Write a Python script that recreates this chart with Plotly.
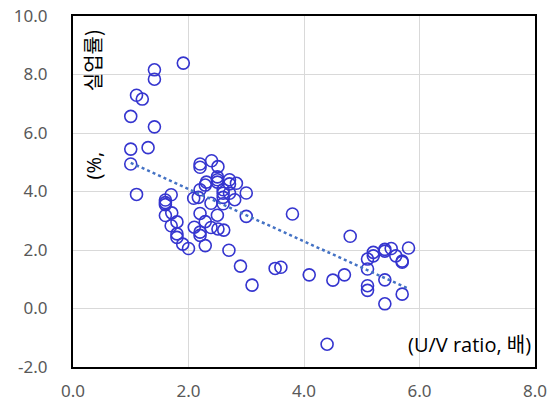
import numpy as np
import plotly.graph_objects as go

# U/V ratio (x) and unemployment rate in % (y)
uv_ratio = [
    1.91, 1.41, 1.41, 1.10, 1.20, 1.00, 1.41, 1.00, 1.30, 1.00, 1.10,
    1.70, 1.60, 1.60, 1.60, 1.71, 1.60, 1.80, 1.70, 1.80, 1.80, 1.90, 2.00,
    2.20, 2.20, 2.40, 2.51, 2.50, 2.50, 2.50, 2.31, 2.29, 2.71, 2.71, 2.83,
    3.00, 2.20, 2.17, 2.09, 2.60, 2.60, 2.71, 2.80, 2.60, 2.39, 2.60, 2.20,
    2.50, 3.00, 2.29, 2.10, 2.39, 2.51, 2.61, 2.20, 2.20, 2.29, 2.70, 2.90,
    3.10,
    3.50, 3.60, 3.80, 4.09, 4.50, 4.70, 4.40, 4.80, 5.10, 5.20, 5.20, 5.10,
    5.10, 5.10, 5.40, 5.40, 5.51, 5.59, 5.70, 5.70, 5.81, 5.40, 5.70, 5.40,
]
unemployment = [
    8.39, 8.16, 7.84, 7.29, 7.16, 6.57, 6.21, 5.45, 5.50, 4.94, 3.90,
    3.89, 3.71, 3.62, 3.55, 3.27, 3.18, 2.96, 2.83, 2.55, 2.43, 2.20, 2.05,
    4.94, 4.83, 5.05, 4.85, 4.50, 4.40, 4.32, 4.32, 4.22, 4.40, 4.26, 4.28,
    3.95, 4.06, 3.80, 3.77, 4.06, 3.94, 3.94, 3.72, 3.80, 3.60, 3.58, 3.25,
    3.19, 3.15, 2.97, 2.78, 2.77, 2.72, 2.68, 2.61, 2.50, 2.15, 1.99, 1.45,
    0.80,
    1.37, 1.41, 3.23, 1.15, 0.97, 1.15, -1.22, 2.47, 1.69, 1.80, 1.92, 1.35,
    0.78, 0.62, 2.02, 1.96, 2.05, 1.80, 1.62, 1.58, 2.07, 0.98, 0.49, 0.16,
]

x_ticks = [0, 2, 4, 6, 8]
y_ticks = [-2, 0, 2, 4, 6, 8, 10]

# Linear least-squares trend over the observed range
slope, intercept = np.polyfit(uv_ratio, unemployment, 1)
trend_x = np.array([min(uv_ratio), max(uv_ratio)])
trend_y = slope * trend_x + intercept

fig = go.Figure()
fig.add_trace(go.Scatter(
    x=uv_ratio, y=unemployment, mode="markers",
    marker=dict(symbol="circle-open", size=12, color="#3535CF",
                line=dict(width=1.6, color="#3535CF")),
    showlegend=False, hoverinfo="skip",
))
fig.add_trace(go.Scatter(
    x=trend_x, y=trend_y, mode="lines",
    line=dict(color="#4472C4", width=2.5, dash="dot"),
    showlegend=False, hoverinfo="skip",
))

tick_font = dict(family="Noto Sans, DejaVu Sans, sans-serif", size=17, color="#595959")
axis_common = dict(
    showgrid=True, gridcolor="#D9D9D9", gridwidth=1,
    zeroline=False, showline=True, linecolor="black", linewidth=2,
    mirror=True, ticks="", tickfont=tick_font, automargin=False,
)

fig.update_layout(
    width=551, height=404,
    margin=dict(l=73, r=16, t=16, b=37),
    plot_bgcolor="white", paper_bgcolor="white",
    xaxis=dict(range=[0, 8], tickvals=x_ticks,
               ticktext=[f"{v:.1f}" for v in x_ticks],
               ticklabelstandoff=8, **axis_common),
    yaxis=dict(range=[-2, 10], tickvals=y_ticks,
               ticktext=[f"{v:.1f}" for v in y_ticks],
               ticklabelstandoff=20, **axis_common),
)

label_font = dict(family="Open Sans, Noto Sans CJK KR, sans-serif", size=20, color="black")
fig.add_annotation(
    text="(U/V ratio, 배)", xref="paper", yref="paper",
    x=0.995, y=0.065, xanchor="right", yanchor="middle",
    showarrow=False, font=label_font,
)
fig.add_annotation(
    text="(%,", xref="paper", yref="paper", textangle=-90,
    x=0.044, y=0.575, xanchor="center", yanchor="middle",
    showarrow=False, font=label_font,
)
fig.add_annotation(
    text="실업률)", xref="paper", yref="paper", textangle=-90,
    x=0.044, y=0.875, xanchor="center", yanchor="middle",
    showarrow=False,
    font=dict(family="Noto Sans CJK KR, sans-serif", size=20, color="black"),
)

fig.write_html("out.html")
